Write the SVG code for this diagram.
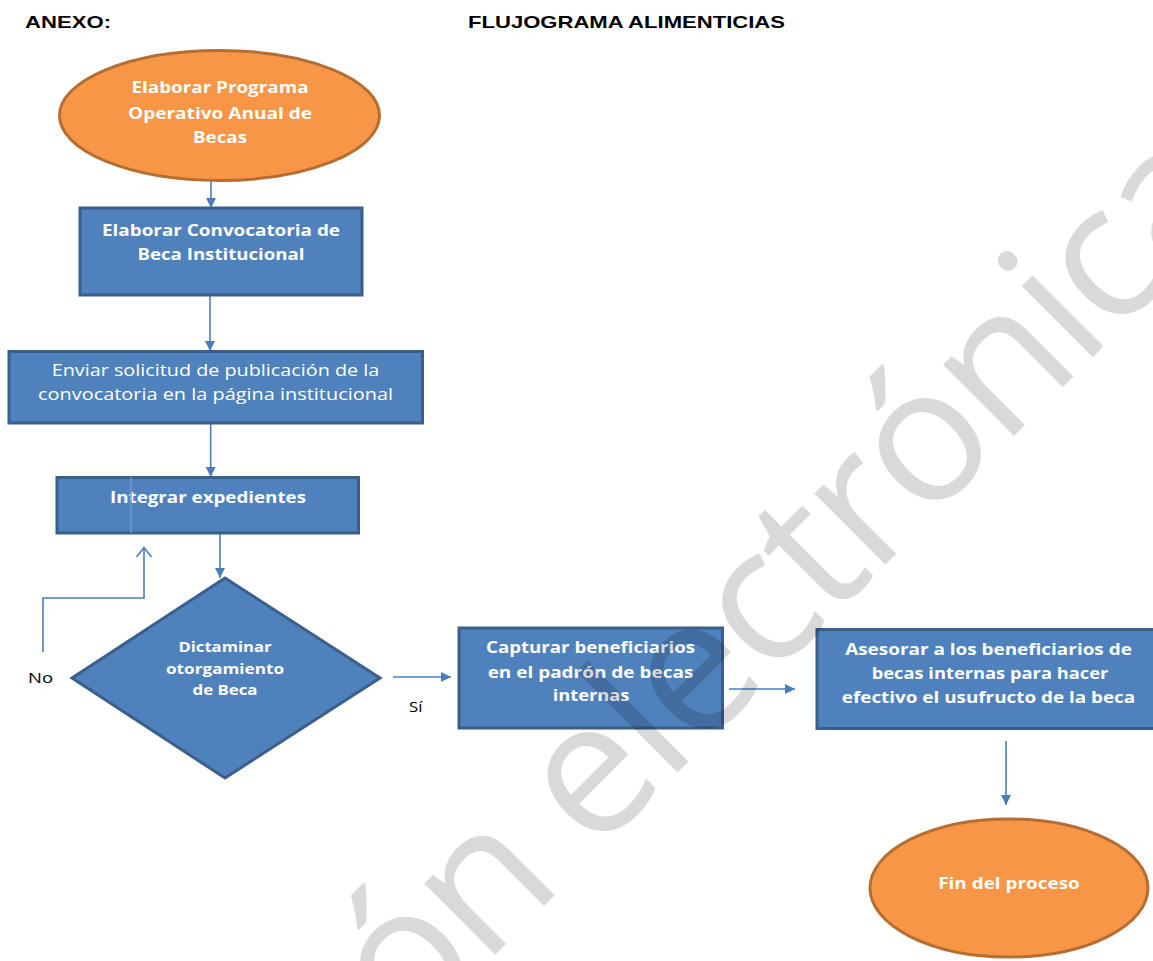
<svg xmlns="http://www.w3.org/2000/svg" width="1153" height="961" viewBox="0 0 1153 961">
<style>
.t{font-family:"Liberation Sans",Arial,sans-serif;font-weight:bold;font-size:17px;fill:#000}
.box{fill:#4F81BD;stroke:#3A5F8B;stroke-width:3}
.ell{fill:#F79646;stroke:#B66D31;stroke-width:3}
.w{font-family:"Open Sans","Noto Sans",sans-serif;font-weight:bold;font-size:16px;fill:#fff;text-anchor:middle}
.wr{font-weight:normal;font-size:15.5px}
.ws{font-size:15px}
.lbl{font-family:"Open Sans","Noto Sans",sans-serif;font-size:15px;fill:#000}
.c{fill:none;stroke:#4A7EBB;stroke-width:1.6}
.wm{font-family:"Open Sans","Noto Sans",sans-serif;font-weight:normal;font-size:188px;fill:#000;fill-opacity:.15}
</style>
<defs>
<marker id="ah" viewBox="0 0 10 10" refX="10" refY="5" markerWidth="10" markerHeight="11" markerUnits="userSpaceOnUse" orient="auto">
<path d="M0,0 L10,5 L0,10 z" fill="#4A7EBB"/>
</marker>
</defs>

<g id="titles">
<text class="t" x="25" y="28" textLength="86" lengthAdjust="spacingAndGlyphs">ANEXO:</text>
<text class="t" x="468" y="27.5" textLength="317" lengthAdjust="spacingAndGlyphs">FLUJOGRAMA ALIMENTICIAS</text>
</g>

<g id="connectors">
<line class="c" x1="211" y1="181" x2="211" y2="208" marker-end="url(#ah)"/>
<line class="c" x1="210" y1="295" x2="210" y2="351" marker-end="url(#ah)"/>
<line class="c" x1="210.7" y1="423" x2="210.7" y2="477" marker-end="url(#ah)"/>
<line class="c" x1="220" y1="522" x2="220" y2="578" marker-end="url(#ah)"/>
<polyline class="c" points="43,652 43,598 144,598 144,548"/>
<polyline class="c" points="136.5,557 144,547.5 151.5,557"/>
<line class="c" x1="393" y1="677" x2="451" y2="677" marker-end="url(#ah)"/>
<line class="c" x1="729" y1="689" x2="795" y2="689" marker-end="url(#ah)"/>
<line class="c" x1="1006" y1="741" x2="1006" y2="805" marker-end="url(#ah)"/>
<text class="lbl" x="28" y="683" textLength="25" lengthAdjust="spacingAndGlyphs">No</text>
<text class="lbl" x="409" y="712" textLength="13.5" lengthAdjust="spacingAndGlyphs">Sí</text>
</g>

<g id="n1">
<ellipse class="ell" cx="219.5" cy="115.5" rx="160" ry="65"/>
<text class="w" x="220" y="93" textLength="177" lengthAdjust="spacingAndGlyphs">Elaborar Programa</text>
<text class="w" x="220" y="119" textLength="184" lengthAdjust="spacingAndGlyphs">Operativo Anual de</text>
<text class="w" x="220" y="143" textLength="54" lengthAdjust="spacingAndGlyphs">Becas</text>
</g>

<g id="n2">
<rect class="box" x="80" y="208" width="282" height="87"/>
<text class="w" x="221" y="236" textLength="238" lengthAdjust="spacingAndGlyphs">Elaborar Convocatoria de</text>
<text class="w" x="221" y="260" textLength="167" lengthAdjust="spacingAndGlyphs">Beca Institucional</text>
</g>

<g id="n3">
<rect class="box" x="9" y="351.5" width="413.5" height="71.5"/>
<text class="w wr" x="215.5" y="376" textLength="327.6" lengthAdjust="spacingAndGlyphs">Enviar solicitud de publicación de la</text>
<text class="w wr" x="215.5" y="400" textLength="355" lengthAdjust="spacingAndGlyphs">convocatoria en la página institucional</text>
</g>

<g id="n4">
<rect class="box" x="57" y="477.5" width="301.5" height="55.5"/>
<text class="w" x="208" y="503" textLength="196" lengthAdjust="spacingAndGlyphs">Integrar expedientes</text>
<line x1="131" y1="477" x2="131" y2="533" stroke="#6E9AD0" stroke-width="1.5"/>
</g>

<g id="n5">
<polygon class="box" points="225,578 380,678 225,778 72,678"/>
<text class="w ws" x="225" y="651.5" textLength="93" lengthAdjust="spacingAndGlyphs">Dictaminar</text>
<text class="w ws" x="225" y="673.5" textLength="118" lengthAdjust="spacingAndGlyphs">otorgamiento</text>
<text class="w ws" x="225" y="695" textLength="65" lengthAdjust="spacingAndGlyphs">de Beca</text>
</g>

<g id="n6">
<rect class="box" x="459" y="628" width="263.5" height="100"/>
<text class="w" x="590.5" y="653" textLength="209" lengthAdjust="spacingAndGlyphs">Capturar beneficiarios</text>
<text class="w" x="590.5" y="678" textLength="205.7" lengthAdjust="spacingAndGlyphs">en el padrón de becas</text>
<text class="w" x="591" y="701" textLength="76.7" lengthAdjust="spacingAndGlyphs">internas</text>
</g>

<g id="n7">
<rect class="box" x="817" y="629.5" width="345" height="99"/>
<text class="w" x="988.5" y="654.5" textLength="286.7" lengthAdjust="spacingAndGlyphs">Asesorar a los beneficiarios de</text>
<text class="w" x="990" y="678.5" textLength="236.7" lengthAdjust="spacingAndGlyphs">becas internas para hacer</text>
<text class="w" x="988.5" y="702.5" textLength="293.3" lengthAdjust="spacingAndGlyphs">efectivo el usufructo de la beca</text>
</g>

<g id="n8">
<ellipse class="ell" cx="1009" cy="888" rx="139" ry="69"/>
<text class="w" x="1009" y="888.5" textLength="141.7" lengthAdjust="spacingAndGlyphs">Fin del proceso</text>
</g>

<g id="watermark">
<text class="wm" transform="translate(406.8,1043.2) rotate(-45)" x="0" y="0" textLength="1188" lengthAdjust="spacing">ón electrónica</text>
</g>
</svg>
